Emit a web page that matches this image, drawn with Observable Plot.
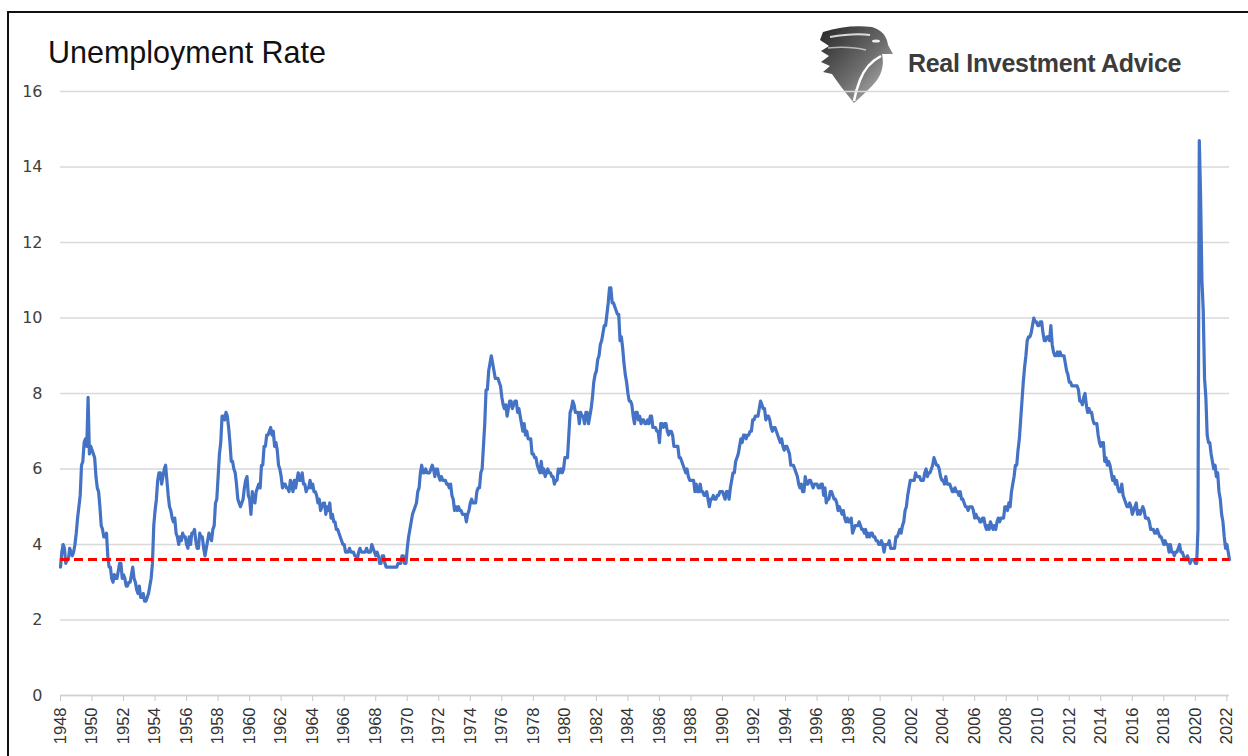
<!DOCTYPE html>
<html>
<head>
<meta charset="utf-8">
<script src="https://cdn.jsdelivr.net/npm/d3@7"></script>
<script src="https://cdn.jsdelivr.net/npm/@observablehq/plot@0.6"></script>
<style>
  html, body { margin: 0; padding: 0; background: #fff; overflow: hidden; }
  #frame { position: absolute; left: 7px; top: 11px; width: 1300px; height: 800px;
           border-left: 2px solid #111; border-top: 2px solid #111; }
  #title { position: absolute; left: 48px; top: 37px; font: 30.5px "Liberation Sans", Arial, sans-serif;
           line-height: 1; color: #111; white-space: nowrap; }
  #brand { position: absolute; left: 908px; top: 51px; font: bold 25px "Liberation Sans", Arial, sans-serif;
           line-height: 1; color: #3c3c3c; white-space: nowrap; letter-spacing: -0.3px; }
  #logo { position: absolute; left: 820px; top: 24px; }
  #chart { position: absolute; left: 0; top: 80px; }
</style>
</head>
<body>
<div id="frame"></div>
<div id="title">Unemployment Rate</div>
<svg id="logo" width="74" height="80" viewBox="0 0 74 80">
  <defs>
    <linearGradient id="lg" x1="0" y1="0" x2="1" y2="1">
      <stop offset="0" stop-color="#262626"/>
      <stop offset="0.55" stop-color="#6e6e6e"/>
      <stop offset="1" stop-color="#c8c8c8"/>
    </linearGradient>
  </defs>
  <path d="M3,8 Q28,0 52,3 Q66,7 68,21 L73,30 L62,30 Q66,48 52,62 Q42,72 34,79 Q20,62 12,50 L3,48 L10,42 L1,38 L9,32 L1,27 L9,22 L0,16 Z" fill="url(#lg)"/>
  <path d="M10,13 Q34,9 50,11" stroke="#fff" stroke-width="2" fill="none" opacity="0.8"/>
  <path d="M8,24 Q30,22 46,26" stroke="#fff" stroke-width="1.5" fill="none" opacity="0.6"/>
  <path d="M61,32 Q46,40 40,56 Q36,66 34,77" stroke="#fff" stroke-width="2.5" fill="none"/>
  <ellipse cx="56" cy="17" rx="4" ry="1.6" fill="#eee"/>
</svg>
<div id="brand">Real Investment Advice</div>
<div id="chart"></div>
<script>
// ---- data (US civilian unemployment rate, monthly, starting Jan 1948) ----
const startYear = 1948;
const unrate = [
  3.4,3.8,4.0,3.9,3.5,3.6,3.6,3.9,3.8,3.7,3.8,4.0,   // 1948
  4.3,4.7,5.0,5.3,6.1,6.2,6.7,6.8,6.6,7.9,6.4,6.6,   // 1949
  6.5,6.4,6.3,5.8,5.5,5.4,5.0,4.5,4.4,4.2,4.2,4.3,   // 1950
  3.7,3.4,3.4,3.1,3.0,3.2,3.1,3.1,3.3,3.5,3.5,3.1,   // 1951
  3.2,3.1,2.9,2.9,3.0,3.0,3.2,3.4,3.1,3.0,2.8,2.7,   // 1952
  2.9,2.6,2.6,2.7,2.5,2.5,2.6,2.7,2.9,3.1,3.5,4.5,   // 1953
  4.9,5.2,5.7,5.9,5.9,5.6,5.8,6.0,6.1,5.7,5.3,5.0,   // 1954
  4.9,4.7,4.6,4.7,4.3,4.2,4.0,4.2,4.1,4.3,4.2,4.2,   // 1955
  4.0,3.9,4.2,4.0,4.3,4.3,4.4,4.1,3.9,3.9,4.3,4.2,   // 1956
  4.2,3.9,3.7,3.9,4.1,4.3,4.2,4.1,4.4,4.5,5.1,5.2,   // 1957
  5.8,6.4,6.7,7.4,7.4,7.3,7.5,7.4,7.1,6.7,6.2,6.2,   // 1958
  6.0,5.9,5.6,5.2,5.1,5.0,5.1,5.2,5.5,5.7,5.8,5.3,   // 1959
  5.2,4.8,5.4,5.2,5.1,5.4,5.5,5.6,5.5,6.1,6.1,6.6,   // 1960
  6.6,6.9,6.9,7.0,7.1,6.9,7.0,6.6,6.7,6.5,6.1,6.0,   // 1961
  5.8,5.5,5.6,5.6,5.5,5.5,5.4,5.7,5.6,5.4,5.7,5.5,   // 1962
  5.7,5.9,5.7,5.7,5.9,5.6,5.6,5.4,5.5,5.5,5.7,5.5,   // 1963
  5.6,5.4,5.4,5.3,5.1,5.2,4.9,5.0,5.1,5.1,4.8,5.0,   // 1964
  4.9,5.1,4.7,4.8,4.6,4.6,4.4,4.4,4.3,4.2,4.1,4.0,   // 1965
  4.0,3.8,3.8,3.8,3.9,3.8,3.8,3.8,3.7,3.7,3.6,3.8,   // 1966
  3.9,3.8,3.8,3.8,3.8,3.9,3.8,3.8,3.8,4.0,3.9,3.8,   // 1967
  3.7,3.8,3.7,3.5,3.5,3.7,3.7,3.5,3.4,3.4,3.4,3.4,   // 1968
  3.4,3.4,3.4,3.4,3.4,3.5,3.5,3.5,3.7,3.7,3.5,3.5,   // 1969
  3.9,4.2,4.4,4.6,4.8,4.9,5.0,5.1,5.4,5.5,5.9,6.1,   // 1970
  5.9,5.9,6.0,5.9,5.9,5.9,6.0,6.1,6.0,5.8,6.0,6.0,   // 1971
  5.8,5.7,5.8,5.7,5.7,5.7,5.6,5.6,5.5,5.6,5.3,5.2,   // 1972
  4.9,5.0,4.9,5.0,4.9,4.9,4.8,4.8,4.8,4.6,4.8,4.9,   // 1973
  5.1,5.2,5.1,5.1,5.1,5.4,5.5,5.5,5.9,6.0,6.6,7.2,   // 1974
  8.1,8.1,8.6,8.8,9.0,8.8,8.6,8.4,8.4,8.4,8.3,8.2,   // 1975
  7.9,7.7,7.6,7.7,7.4,7.6,7.8,7.8,7.6,7.7,7.8,7.8,   // 1976
  7.5,7.6,7.4,7.2,7.0,7.2,6.9,7.0,6.8,6.8,6.8,6.4,   // 1977
  6.4,6.3,6.3,6.1,6.0,5.9,6.2,5.9,6.0,5.8,5.9,6.0,   // 1978
  5.9,5.9,5.8,5.8,5.6,5.7,5.7,6.0,5.9,6.0,5.9,6.0,   // 1979
  6.3,6.3,6.3,6.9,7.5,7.6,7.8,7.7,7.5,7.5,7.5,7.2,   // 1980
  7.5,7.4,7.4,7.2,7.5,7.5,7.2,7.4,7.6,7.9,8.3,8.5,   // 1981
  8.6,8.9,9.0,9.3,9.4,9.6,9.8,9.8,10.1,10.4,10.8,10.8, // 1982
  10.4,10.4,10.3,10.2,10.1,10.1,9.4,9.5,9.2,8.8,8.5,8.3, // 1983
  8.0,7.8,7.8,7.7,7.4,7.2,7.5,7.5,7.3,7.4,7.2,7.3,   // 1984
  7.3,7.2,7.2,7.3,7.2,7.4,7.4,7.1,7.1,7.1,7.0,7.0,   // 1985
  6.7,7.2,7.2,7.1,7.2,7.2,7.0,6.9,7.0,7.0,6.9,6.6,   // 1986
  6.6,6.6,6.6,6.3,6.3,6.2,6.1,6.0,5.9,6.0,5.8,5.7,   // 1987
  5.7,5.7,5.7,5.4,5.6,5.4,5.4,5.6,5.4,5.4,5.3,5.3,   // 1988
  5.4,5.2,5.0,5.2,5.2,5.3,5.2,5.2,5.3,5.3,5.4,5.4,   // 1989
  5.4,5.3,5.2,5.4,5.4,5.2,5.5,5.7,5.9,5.9,6.2,6.3,   // 1990
  6.4,6.6,6.8,6.7,6.9,6.9,6.8,6.9,6.9,7.0,7.0,7.3,   // 1991
  7.3,7.4,7.4,7.4,7.6,7.8,7.7,7.6,7.6,7.3,7.4,7.4,   // 1992
  7.3,7.1,7.0,7.1,7.1,7.0,6.9,6.8,6.7,6.8,6.6,6.5,   // 1993
  6.6,6.6,6.5,6.4,6.1,6.1,6.1,6.0,5.9,5.8,5.6,5.5,   // 1994
  5.6,5.4,5.4,5.8,5.6,5.6,5.7,5.7,5.6,5.5,5.6,5.6,   // 1995
  5.6,5.5,5.5,5.6,5.6,5.3,5.5,5.1,5.2,5.2,5.4,5.4,   // 1996
  5.3,5.2,5.2,5.1,4.9,5.0,4.9,4.8,4.9,4.7,4.6,4.7,   // 1997
  4.6,4.6,4.7,4.3,4.4,4.5,4.5,4.5,4.6,4.5,4.4,4.4,   // 1998
  4.3,4.4,4.2,4.3,4.2,4.3,4.3,4.2,4.2,4.1,4.1,4.0,   // 1999
  4.0,4.1,4.0,3.8,4.0,4.0,4.0,4.1,3.9,3.9,3.9,3.9,   // 2000
  4.2,4.2,4.3,4.4,4.3,4.5,4.6,4.9,5.0,5.3,5.5,5.7,   // 2001
  5.7,5.7,5.7,5.9,5.8,5.8,5.8,5.7,5.7,5.7,5.9,6.0,   // 2002
  5.8,5.9,5.9,6.0,6.1,6.3,6.2,6.1,6.1,6.0,5.8,5.7,   // 2003
  5.7,5.6,5.8,5.6,5.6,5.6,5.5,5.4,5.4,5.5,5.4,5.4,   // 2004
  5.3,5.4,5.2,5.2,5.1,5.0,5.0,4.9,5.0,5.0,5.0,4.9,   // 2005
  4.7,4.8,4.7,4.7,4.6,4.6,4.7,4.7,4.5,4.4,4.5,4.4,   // 2006
  4.6,4.5,4.4,4.5,4.4,4.6,4.7,4.6,4.7,4.7,4.7,5.0,   // 2007
  5.0,4.9,5.1,5.0,5.4,5.6,5.8,6.1,6.1,6.5,6.8,7.3,   // 2008
  7.8,8.3,8.7,9.0,9.4,9.5,9.5,9.6,9.8,10.0,9.9,9.9,  // 2009
  9.8,9.8,9.9,9.9,9.6,9.4,9.4,9.5,9.5,9.4,9.8,9.3,   // 2010
  9.1,9.0,9.0,9.1,9.0,9.1,9.0,9.0,9.0,8.8,8.6,8.5,   // 2011
  8.3,8.3,8.2,8.2,8.2,8.2,8.2,8.1,7.8,7.8,7.7,7.9,   // 2012
  8.0,7.7,7.5,7.6,7.5,7.5,7.3,7.2,7.2,7.2,6.9,6.7,   // 2013
  6.6,6.7,6.7,6.2,6.3,6.1,6.2,6.1,5.9,5.7,5.8,5.6,   // 2014
  5.7,5.5,5.4,5.4,5.6,5.3,5.2,5.1,5.0,5.0,5.1,5.0,   // 2015
  4.8,4.9,5.0,5.1,4.8,4.9,4.8,4.9,5.0,4.9,4.7,4.7,   // 2016
  4.7,4.6,4.4,4.4,4.4,4.3,4.3,4.4,4.3,4.2,4.2,4.1,   // 2017
  4.0,4.1,4.0,4.0,3.8,4.0,3.8,3.8,3.7,3.8,3.8,3.9,   // 2018
  4.0,3.8,3.8,3.7,3.6,3.6,3.7,3.6,3.5,3.6,3.6,3.6,   // 2019
  3.5,3.5,4.4,14.7,13.2,11.0,10.2,8.4,7.9,6.9,6.7,6.7, // 2020
  6.4,6.2,6.0,6.1,5.8,5.9,5.4,5.2,4.8,4.6,4.2,3.9,   // 2021
  4.0,3.8,3.6                                          // 2022
];
const yTicks = [0, 2, 4, 6, 8, 10, 12, 14, 16];
const xTickYears = d3.range(1948, 2023, 2);
const referenceLevel = 3.6;

const series = unrate.map((v, i) => ({ t: startYear + i / 12, v }));
const lastT = startYear + (unrate.length - 1) / 12;

const chart = Plot.plot({
  width: 1248,
  height: 676,
  marginLeft: 60,
  marginRight: 19,
  marginTop: 11,
  marginBottom: 61,
  style: { background: "transparent", overflow: "visible" },
  x: { domain: [startYear, lastT], label: null, axis: null },
  y: { domain: [0, 16], label: null, axis: null },
  marks: [
    Plot.gridY(yTicks, { stroke: "#d9d9d9", strokeOpacity: 1, strokeWidth: 1.5 }),
    // y tick labels
    Plot.text(yTicks, {
      x: startYear, y: d => d, dx: -18, textAnchor: "end",
      text: d => String(d),
      fontSize: 16, fontFamily: "DejaVu Sans, Verdana, sans-serif", fill: "#404040"
    }),
    // x tick marks (labels drawn separately)
    Plot.axisX(xTickYears, {
      tickFormat: () => "", tickSize: 6, label: null,
      stroke: "#c8c8c8", strokeOpacity: 1
    }),
    // x tick labels, rotated
    Plot.text(xTickYears, {
      x: d => d, y: 0, dy: 12, rotate: -90, textAnchor: "end",
      text: d => String(d),
      fontSize: 16.5, fontFamily: "Liberation Sans, Arial, sans-serif", fill: "#333"
    }),
    Plot.ruleY([0], { stroke: "#d0d0d0", strokeWidth: 1.5 }),
    Plot.line(series, {
      x: "t", y: "v", stroke: "#4472C4", strokeWidth: 3.2,
      strokeLinejoin: "round", strokeLinecap: "round"
    }),
    Plot.ruleY([referenceLevel], {
      stroke: "#FF0000", strokeWidth: 3, strokeDasharray: "9,5"
    })
  ]
});
document.getElementById("chart").appendChild(chart);
</script>
</body>
</html>
